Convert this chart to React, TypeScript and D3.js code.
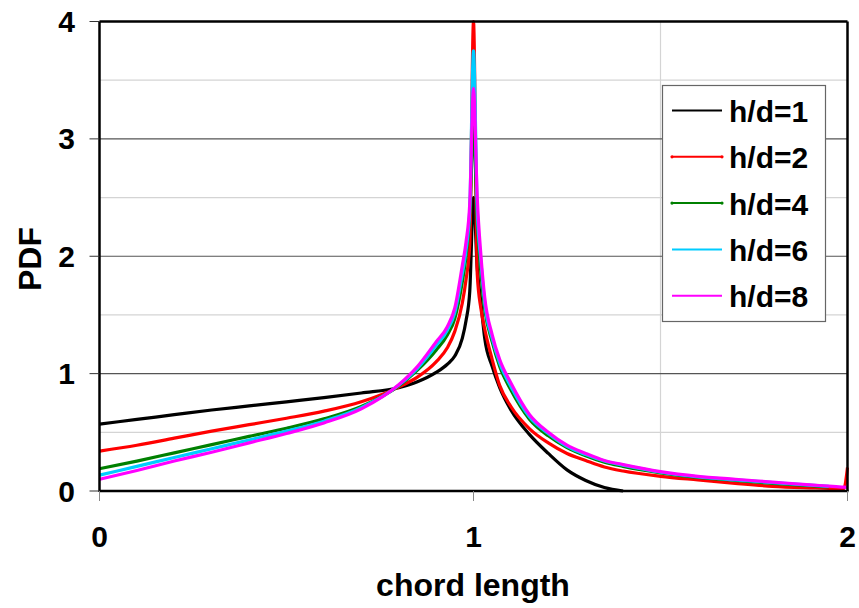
import * as d3 from 'd3';

// chord length sample points
const chordX = [0, 0.1, 0.2, 0.3, 0.4, 0.5, 0.6, 0.7, 0.8, 0.85, 0.9, 0.93, 0.95, 0.97, 0.98, 0.99, 1.0,
  1.01, 1.02, 1.03, 1.05, 1.07, 1.1, 1.15, 1.2, 1.25, 1.3, 1.35, 1.4, 1.5, 1.6, 1.7, 1.8, 1.9, 1.95, 1.99, 2.0];

const pdfHd1 = [0.57, 0.61, 0.65, 0.69, 0.725, 0.76, 0.795, 0.835, 0.88, 0.93, 1.01, 1.08, 1.15, 1.3, 1.45, 1.7, 2.5,
  1.9, 1.6, 1.3, 1.06, 0.88, 0.69, 0.48, 0.32, 0.18, 0.09, 0.03, 0.0, null, null, null, null, null, null, null, null];
const pdfHd2 = [0.34, 0.39, 0.45, 0.51, 0.565, 0.62, 0.68, 0.76, 0.885, 0.97, 1.1, 1.22, 1.36, 1.6, 1.8, 2.1, 4.0,
  1.85, 1.55, 1.38, 1.12, 0.9, 0.72, 0.53, 0.41, 0.32, 0.26, 0.205, 0.17, 0.125, 0.094, 0.065, 0.04, 0.027, 0.022, 0.02, 0.2];
const pdfHd4 = [0.19, 0.255, 0.325, 0.395, 0.465, 0.535, 0.615, 0.72, 0.895, 1.03, 1.2, 1.33, 1.47, 1.78, 2.0, 2.35, 3.1,
  2.3, 1.85, 1.55, 1.27, 1.06, 0.86, 0.61, 0.47, 0.37, 0.3, 0.245, 0.21, 0.155, 0.115, 0.09, 0.065, 0.045, 0.035, null, null];
const pdfHd6 = [0.135, 0.21, 0.285, 0.36, 0.435, 0.51, 0.595, 0.71, 0.9, 1.045, 1.24, 1.37, 1.52, 1.85, 2.05, 2.4, 3.75,
  2.4, 1.95, 1.6, 1.3, 1.09, 0.89, 0.63, 0.49, 0.38, 0.31, 0.255, 0.22, 0.16, 0.12, 0.095, 0.072, 0.05, 0.04, null, null];
const pdfHd8 = [0.1, 0.175, 0.255, 0.33, 0.41, 0.49, 0.58, 0.7, 0.905, 1.06, 1.27, 1.4, 1.56, 1.92, 2.12, 2.45, 3.43,
  2.5, 2.0, 1.65, 1.33, 1.12, 0.92, 0.65, 0.5, 0.39, 0.32, 0.26, 0.225, 0.165, 0.125, 0.1, 0.076, 0.052, 0.042, 0.033, 0.03];

const seriesNames = ['h/d=1', 'h/d=2', 'h/d=4', 'h/d=6', 'h/d=8'];
const seriesColors = ['#000000', '#ff0000', '#008000', '#00ccff', '#ff00ff'];
const seriesValues = [pdfHd1, pdfHd2, pdfHd4, pdfHd6, pdfHd8];

const xTicks = [0, 1, 2];
const yTicks = [0, 1, 2, 3, 4];
const yMinorGrid = [0.5, 1.5, 2.5, 3.5];
const xMinorGrid = [1.5];

const W = 859;
const H = 608;
const FONT = 'Arial, "Liberation Sans", sans-serif';

export default function App() {
  const left = 99.5, right = 847.5, top = 21.5, bottom = 491;
  const x = d3.scaleLinear().domain([0, 2]).range([left, right]);
  const y = d3.scaleLinear().domain([0, 4]).range([bottom, top]);

  const line = d3.line<[number, number | null]>()
    .defined(d => d[1] != null)
    .x(d => x(d[0]))
    .y(d => y(d[1] as number))
    .curve(d3.curveMonotoneX);

  const legendX = 662.5, legendY = 85.5, legendW = 163, legendH = 236;

  return (
    <svg width={W} height={H} style={{ position: 'absolute', left: 0, top: 0, background: '#fff' }}
      fontFamily={FONT} fontWeight="bold">
      {/* grid */}
      {yMinorGrid.map(v => (
        <line key={'ym' + v} x1={left} x2={right} y1={y(v)} y2={y(v)} stroke="#d4d4d4" strokeWidth={1.2} />
      ))}
      {xMinorGrid.map(v => (
        <line key={'xm' + v} x1={x(v)} x2={x(v)} y1={top} y2={bottom} stroke="#d4d4d4" strokeWidth={1.2} />
      ))}
      {yTicks.filter(v => v > 0 && v < 4).map(v => (
        <line key={'yg' + v} x1={left} x2={right} y1={y(v)} y2={y(v)} stroke="#555" strokeWidth={1.2} />
      ))}

      {/* curves */}
      {seriesValues.map((vals, i) => (
        <path key={seriesNames[i]}
          d={line(chordX.map((c, j) => [c, vals[j]] as [number, number | null])) || ''}
          fill="none" stroke={seriesColors[i]} strokeWidth={3.2} strokeLinejoin="round" />
      ))}

      {/* frame */}
      <line x1={left} x2={right} y1={top} y2={top} stroke="#000" strokeWidth={2.5} />
      <line x1={right} x2={right} y1={top} y2={bottom} stroke="#000" strokeWidth={2.5} />
      <line x1={left} x2={left} y1={top} y2={bottom + 1} stroke="#000" strokeWidth={2.5} />
      <line x1={left} x2={right + 1} y1={bottom} y2={bottom} stroke="#000" strokeWidth={2.5} />

      {/* y axis ticks */}
      {yTicks.map(v => (
        <g key={'yt' + v}>
          <line x1={left - 10} x2={left} y1={y(v)} y2={y(v)} stroke="#333" strokeWidth={1} />
          <text x={75} y={y(v)} textAnchor="end" dominantBaseline="central" fontSize={30}>{v}</text>
        </g>
      ))}
      {/* x axis ticks */}
      {xTicks.map(v => (
        <g key={'xt' + v}>
          <line x1={x(v)} x2={x(v)} y1={bottom} y2={bottom + 10} stroke="#888" strokeWidth={1} />
          <text x={x(v)} y={547} textAnchor="middle" fontSize={30}>{v}</text>
        </g>
      ))}

      <text x={473} y={596} textAnchor="middle" fontSize={32}>chord length</text>
      <text transform={`translate(41,259) rotate(-90)`} textAnchor="middle" fontSize={32}>PDF</text>

      {/* legend */}
      <rect x={legendX} y={legendY} width={legendW} height={legendH} fill="#fff" stroke="#666" strokeWidth={1.2} />
      {seriesNames.map((name, i) => {
        const ly = 110.5 + i * 46.3;
        const marked = i === 1 || i === 2;
        return (
          <g key={'lg' + name}>
            <line x1={672} x2={722} y1={ly} y2={ly} stroke={seriesColors[i]} strokeWidth={2} />
            {marked && <circle cx={672} cy={ly} r={1.6} fill={seriesColors[i]} />}
            {marked && <circle cx={722} cy={ly} r={1.6} fill={seriesColors[i]} />}
            <text x={729} y={ly + 1} dominantBaseline="central" fontSize={30}>{name}</text>
          </g>
        );
      })}
    </svg>
  );
}
